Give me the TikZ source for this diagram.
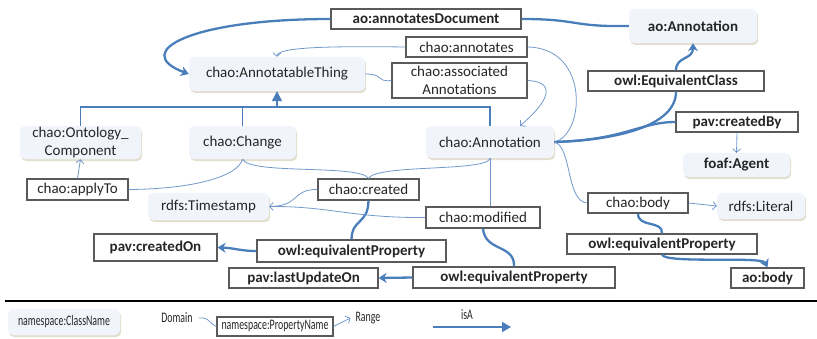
\documentclass[tikz,border=0pt]{standalone}
\usepackage{fontspec}
\usepackage{graphicx}
\setmainfont{Carlito}
\usetikzlibrary{arrows.meta,shadows}

\definecolor{clsfill}{HTML}{F1F5FB}
\definecolor{clsshadow}{HTML}{DCD7C3}
\definecolor{boxgray}{HTML}{5A5A5A}
\definecolor{linkblue}{HTML}{4A7EBB}
\definecolor{thinblue}{HTML}{7199CC}
\definecolor{txt}{HTML}{262626}

% horizontally condensed text for the key
\newcommand\sqz[1]{\scalebox{0.68}[1]{#1}}

\tikzset{
  base/.style={text=txt, font=\fontsize{15}{17.5}\selectfont, inner sep=0pt, align=center},
  cls/.style={base, rounded corners=5pt, fill=clsfill,
    drop shadow={shadow xshift=1.2pt, shadow yshift=-2pt, fill=clsshadow, opacity=0.8}},
  clsb/.style={cls, font=\fontsize{15}{17.5}\selectfont\bfseries},
  prop/.style={base, draw=boxgray, line width=1.2pt, fill=white},
  propb/.style={prop, font=\fontsize{15}{17.5}\selectfont\bfseries},
  plain/.style={base},
  thinlink/.style={draw=thinblue, line width=0.8pt},
  thicklink/.style={draw=linkblue, line width=2.3pt},
  isalink/.style={draw=linkblue, line width=1.6pt},
  thinarrow/.style={thinlink, -{Straight Barb[length=3.5pt,width=8pt]}},
  thickarrow/.style={thicklink, -{Stealth[length=8pt,width=10pt,inset=2.5pt]}},
}

\begin{document}
\begin{tikzpicture}[x=1pt,y=-1pt]
\useasboundingbox (0,0) rectangle (817,338);

% ---------- classes ----------
\node[cls, minimum width=176pt, minimum height=34pt] (ant) at (277,74) {chao:AnnotatableThing};
\node[cls, minimum width=121pt, minimum height=33pt] (onto) at (80.5,142.5) {chao:Ontology\_\\Component};
\node[cls, minimum width=107pt, minimum height=33pt] (chg) at (242.5,142.5) {chao:Change};
\node[cls, minimum width=128pt, minimum height=32pt] (cann) at (490,142) {chao:Annotation};
\node[clsb, minimum width=128pt, minimum height=34pt] (aoann) at (693,26) {ao:Annotation};
\node[clsb, minimum width=107pt, minimum height=24pt] (agent) at (736.5,165) {foaf:Agent};
\node[cls, minimum width=121pt, minimum height=27pt] (ts) at (208.5,206.5) {rdfs:Timestamp};
\node[cls, minimum width=88pt, minimum height=26pt] (lit) at (761,206) {rdfs:Literal};

% ---------- properties ----------
\node[propb, minimum width=190pt, minimum height=20pt] (adoc) at (426,19) {ao:annotatesDocument};
\node[prop, minimum width=121pt, minimum height=20pt] (annot) at (466.5,47) {chao:annotates};
\node[prop, minimum width=135pt, minimum height=35pt] (assoc) at (459.5,80.5) {chao:associated\\Annotations};
\node[propb, minimum width=176pt, minimum height=20pt] (eqc) at (676,81) {owl:EquivalentClass};
\node[propb, minimum width=122pt, minimum height=20pt] (cby) at (737,122) {pav:createdBy};
\node[prop, minimum width=101pt, minimum height=21pt] (apply) at (77.5,189.5) {chao:applyTo};
\node[prop, minimum width=101pt, minimum height=21pt] (created) at (368.5,189.5) {chao:created};
\node[prop, minimum width=114pt, minimum height=21pt] (modified) at (483,217.5) {chao:modified};
\node[propb, minimum width=189pt, minimum height=22pt] (eqp1) at (351.5,251) {owl:equivalentProperty};
\node[propb, minimum width=123pt, minimum height=27pt] (crOn) at (155.5,247.5) {pav:createdOn};
\node[propb, minimum width=149pt, minimum height=20pt] (lastUp) at (303.5,278) {pav:lastUpdateOn};
\node[propb, minimum width=202pt, minimum height=21pt] (eqp2) at (514,277.5) {owl:equivalentProperty};
\node[prop, minimum width=100pt, minimum height=20pt] (body) at (638,203) {chao:body};
\node[propb, minimum width=190pt, minimum height=20pt] (eqp3) at (662,244) {owl:equivalentProperty};
\node[propb, minimum width=73pt, minimum height=20pt] (aobody) at (767.5,278) {ao:body};

% ---------- subclass tree ----------
\coordinate (hub) at (277,107);
\draw[isalink] (onto.north) |- (hub) -| (cann.north);
\draw[isalink] (chg.north) -- (chg.north |- hub);
\draw[isalink, -{Triangle[length=10pt,width=10pt]}] (hub) -- (ant.south);

% ---------- ao:annotatesDocument ----------
\draw[thicklink] (adoc.east) .. controls (580,19) and (570,27) .. (aoann.west);
\draw[thickarrow] (adoc.west) .. controls (190,19) and (130,52) .. (ant.west);

% ---------- chao:annotates ----------
\draw[thinlink] (cann.east) .. controls (585,135) and (590,48) .. (annot.east);
\draw[thinarrow] (annot.west) .. controls (330,46) and (277,47) .. (ant.north);

% ---------- chao:associatedAnnotations ----------
\draw[thinlink] (ant.east) .. controls (385,74) and (375,82) .. (assoc.west);
\draw[thinarrow] (assoc.east) .. controls (560,82) and (545,105) .. ([xshift=30pt]cann.north);

% ---------- owl:EquivalentClass ----------
\draw[thicklink] (cann.east) .. controls (620,140) and (676,125) .. (eqc.south);
\draw[thickarrow] (eqc.north) .. controls (676,56) and (693,60) .. (aoann.south);

% ---------- pav:createdBy ----------
\draw[thicklink] (cann.east) .. controls (625,140) and (640,122) .. (cby.west);
\draw[thinarrow] (cby.south) -- (agent.north);

% ---------- chao:body ----------
\draw[thinlink] (cann.east) .. controls (572,146) and (566,202) .. (body.west);
\draw[thinarrow] (body.east) -- (lit.west);
\draw[thicklink] (body.south) .. controls (638,228) and (663,220) .. (eqp3.north);
\draw[thickarrow] (eqp3.south) .. controls (665,264) and (762,256) .. (aobody.north);

% ---------- chao:applyTo ----------
\draw[thinarrow] (apply.north) -- (onto.south);
\draw[thinlink] (apply.east) .. controls (195,189) and (238,176) .. (chg.south);

% ---------- chao:created ----------
\draw[thinlink] (chg.south) .. controls (250,175) and (360,164) .. (created.north);
\draw[thinlink] (cann.south) .. controls (488,172) and (376,164) .. (created.north);
\draw[thinarrow] (created.west) .. controls (292,189) and (300,206) .. (ts.east);
\draw[thicklink] (created.south) .. controls (368,225) and (352,218) .. (eqp1.north);
\draw[thickarrow] (eqp1.west) .. controls (240,251) and (235,248) .. (crOn.east);

% ---------- chao:modified ----------
\draw[thinlink] (modified.west) .. controls (350,218) and (330,206) .. (ts.east);
\draw[thinlink] (cann.south) -- (cann.south |- modified.north);
\draw[thicklink] (modified.south) .. controls (485,252) and (515,244) .. (eqp2.north);
\draw[thickarrow] (eqp2.west) -- (lastUp.east);

% ---------- key ----------
\coordinate (sepL) at (5,301);
\coordinate (sepR) at (817,301);
\draw[black, line width=2pt] (sepL) -- (sepR);

\node[cls, font=\fontsize{14.5}{16}\selectfont, minimum width=112pt, minimum height=26pt] (lgc) at (64,322) {\sqz{namespace:ClassName}};
\node[plain, font=\fontsize{14.5}{16}\selectfont] (dom) at (177,318) {\sqz{Domain}};
\node[prop, font=\fontsize{14.5}{16}\selectfont, minimum width=116pt, minimum height=19pt] (lgp) at (275,326.5) {\sqz{namespace:PropertyName}};
\node[plain, font=\fontsize{14.5}{16}\selectfont] (rng) at (368,318) {\sqz{Range}};
\draw[thinlink] ([xshift=6pt]dom.east) .. controls (210,317) and (207,322) .. (lgp.west);
\draw[thinarrow] (lgp.east) -- ([xshift=-5pt]rng.west);

\node[plain, font=\fontsize{14.5}{16}\selectfont] (isal) at (467,315) {\sqz{isA}};
\coordinate (isaA) at (433,327);
\coordinate (isaB) at (511,327);
\draw[isalink, -{Triangle[length=9pt,width=10pt]}] (isaA) -- (isaB);
\end{tikzpicture}
\end{document}
